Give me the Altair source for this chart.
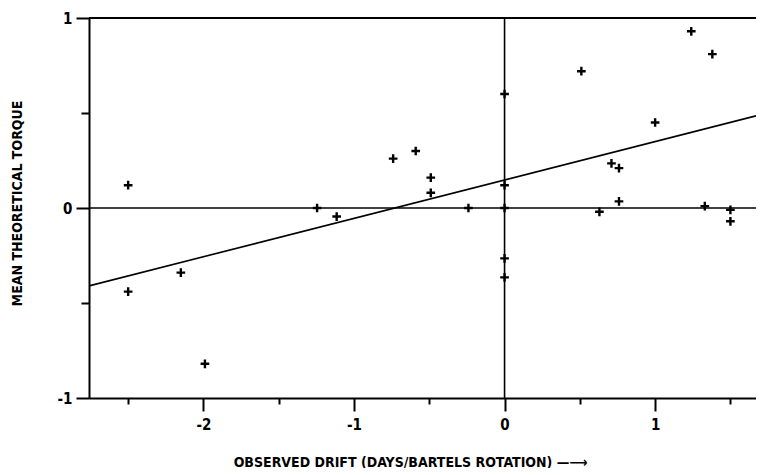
import altair as alt
import pandas as pd

# Observed drift (days / Bartels rotation) vs mean theoretical torque
drift = [-2.50, -2.50, -2.15, -1.99, -1.245, -1.115, -0.74, -0.59, -0.49, -0.49,
         -0.24, 0.0, 0.0, 0.0, 0.0, 0.0, 0.51, 1.24, 1.38, 1.00,
         0.71, 0.76, 0.76, 0.63, 1.33, 1.50, 1.50]
torque = [0.12, -0.44, -0.34, -0.82, 0.0, -0.045, 0.26, 0.30, 0.16, 0.08,
          0.0, 0.60, 0.12, 0.0, -0.265, -0.365, 0.72, 0.93, 0.81, 0.45,
          0.235, 0.21, 0.035, -0.02, 0.01, -0.01, -0.07]

# Regression line end points
line_x = [-2.76, 1.67]
line_y = [-0.41, 0.485]

x_ticks = [-2.5, -2, -1.5, -1, -0.5, 0, 0.5, 1, 1.5]
y_ticks = [-1, -0.5, 0, 0.5, 1]

pts = pd.DataFrame({"x": drift, "y": torque})
reg = pd.DataFrame({"x": line_x, "y": line_y})
zero = pd.DataFrame({"v": [0]})

W, H = 667, 380
FONT = "DejaVu Sans Condensed"

xscale = alt.Scale(domain=[-2.76, 1.67], nice=False, zero=False)
yscale = alt.Scale(domain=[-1, 1], nice=False, zero=False)

xaxis = alt.Axis(
    values=x_ticks,
    title="OBSERVED DRIFT (DAYS/BARTELS ROTATION) —⟶",
    labelExpr="datum.value % 1 === 0 ? toString(datum.value) : ''",
    tickSize={"condition": {"test": "datum.value % 1 !== 0", "value": 6}, "value": 13},
    tickWidth=2, tickColor="black",
    domainColor="black", domainWidth=2,
    labelFont=FONT, labelFontWeight="bold", labelFontSize=15, labelColor="black",
    labelPadding=6, grid=False,
    titleFont=FONT, titleFontWeight="bold", titleFontSize=14, titleColor="black",
    titleX=321, titleY=64, titleAlign="center", titleBaseline="middle",
)
yaxis = alt.Axis(
    values=y_ticks,
    title="MEAN THEORETICAL TORQUE",
    labelExpr="datum.value % 1 === 0 ? toString(datum.value) : ''",
    tickSize={"condition": {"test": "datum.value % 1 !== 0", "value": 8}, "value": 13},
    tickWidth=2, tickColor="black",
    domainColor="black", domainWidth=2,
    labelFont=FONT, labelFontWeight="bold", labelFontSize=15, labelColor="black",
    labelPadding=4, grid=False,
    titleFont=FONT, titleFontWeight="bold", titleFontSize=14, titleColor="black",
    titleAngle=270, titleX=-72, titleY=185, titleAlign="center", titleBaseline="middle",
)

points = alt.Chart(pts).mark_point(
    shape="M-1,0L1,0M0,-1L0,1", size=75, strokeWidth=2.4, color="black", filled=False, opacity=1
).encode(
    x=alt.X("x:Q", scale=xscale, axis=xaxis),
    y=alt.Y("y:Q", scale=yscale, axis=yaxis),
)

line = alt.Chart(reg).mark_line(color="black", strokeWidth=1.6, clip=True).encode(
    x=alt.X("x:Q", scale=xscale),
    y=alt.Y("y:Q", scale=yscale),
)

vzero = alt.Chart(zero).mark_rule(color="black", strokeWidth=1.6).encode(
    x=alt.X("v:Q", scale=xscale)
)
hzero = alt.Chart(zero).mark_rule(color="black", strokeWidth=1.6).encode(
    y=alt.Y("v:Q", scale=yscale)
)
top = alt.Chart(zero).mark_rule(color="black", strokeWidth=2).encode(
    x=alt.value(0), x2=alt.value(W), y=alt.value(0)
)

chart = alt.layer(vzero, hzero, top, line, points).properties(
    width=W, height=H,
    autosize=alt.AutoSizeParams(type="none"),
    padding={"left": 81, "top": 10, "right": 0, "bottom": 70},
).configure_view(stroke=None).configure(background="white")

chart.save("out.html", embed_options={"renderer": "svg", "actions": False})
